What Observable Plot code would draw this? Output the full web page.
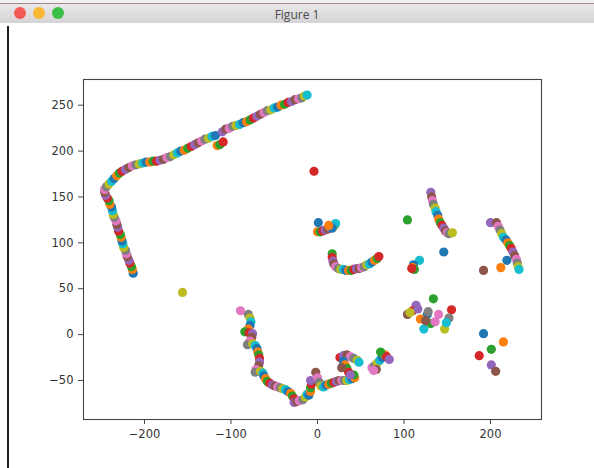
<!DOCTYPE html>
<html><head><meta charset="utf-8">
<script src="https://cdn.jsdelivr.net/npm/d3@7"></script>
<script src="https://cdn.jsdelivr.net/npm/@observablehq/plot@0.6"></script>
<style>
body{margin:0;background:#fff;}
#win{position:relative;width:594px;height:468px;overflow:hidden;background:#fff;}
#top{position:absolute;left:0;top:0;width:594px;height:3px;background:#f2f0f2;border-bottom:1px solid #a08a88;}
#bar{position:absolute;left:0;top:4px;width:594px;height:20px;background:linear-gradient(#e9e7e9,#d4d2d4);border-bottom:1px solid #b8b6b8;}
.light{position:absolute;top:3px;width:12px;height:12px;border-radius:50%;}
#title{position:absolute;left:0;width:594px;top:2px;text-align:center;font:12px "Open Sans","DejaVu Sans",sans-serif;color:#4a4a4a;}
#edge{position:absolute;left:7px;top:26px;width:2px;height:442px;background:#1e1e1e;z-index:2;}
#chart{position:absolute;left:0;top:23px;z-index:1;}
</style></head>
<body>
<div id="win">
  <div id="top"></div>
  <div id="bar">
    <div class="light" style="left:14px;background:#f25a55"></div>
    <div class="light" style="left:33px;background:#f8b834"></div>
    <div class="light" style="left:52px;background:#3cbf47"></div>
    <div id="title">Figure 1</div>
  </div>
  <div id="chart"></div>
  <div id="edge"></div>
</div>
<script>
// tick values
const xTicks = [-200, -100, 0, 100, 200];
const yTicks = [-50, 0, 50, 100, 150, 200, 250];

// long arc, upper left
const arcPts = [
 [-213,67],[-214,71],[-215,74],[-217,78],[-218,81],[-220,85],[-221,88],[-222,92],[-224,95],[-225,99],
 [-226,102],[-227,106],[-228,109],[-230,113],[-231,117],[-232,120],[-233,124],[-235,128],[-236,131],[-237,135],
 [-238,139],[-240,142],[-241,146],[-243,149],[-245,152],[-246,155],[-246,158],[-244,161],[-241,164],[-238,167],
 [-235,170],[-232,173],[-229,176],[-226,178],[-222,180],[-218,182],[-214,184],[-210,185],[-206,186],[-202,187],
 [-198,188],[-194,188],[-190,189],[-186,189],[-182,190],[-178,191],[-174,193],[-170,194],[-166,196],[-162,198],
 [-158,200],[-154,201],[-150,203],[-146,205],[-142,207],[-138,209],[-134,211],[-130,213],[-126,214],[-122,216],
 [-118,217],[-116,206],[-113,207],[-109,210],[-110,221],[-106,224],[-102,225],[-98,227],[-94,228],[-90,229],
 [-86,231],[-82,232],[-78,234],[-74,236],[-70,238],[-66,240],[-62,242],[-58,244],[-54,245],[-50,247],
 [-46,248],[-42,250],[-38,251],[-34,253],[-30,254],[-26,256],[-22,257],[-18,258],[-15,260],[-12,261]
];
// isolated points and their colour categories
const loners = [[-156,46],[-4,178],[104,125],[146,90],[192,70]];
const lonerCats = [8, 3, 2, 0, 5];
// small group near (10,115)
const groupB = [[1,122],[0,112],[3,112],[6,113],[9,114],[12,115],[15,117],[18,118],[20,119],[21,121],[17,116],[13,119]];
// curve near (40,75)
const groupC = [
 [17,88],[17,84],[18,80],[19,77],[21,74],[24,72],[27,71],[30,71],[33,70],[36,70],
 [39,70],[42,71],[45,72],[48,72],[51,73],[54,74],[57,76],[60,77],[63,79],[66,81],[69,83],[71,85]
];
// steep curve near (140,130)
const groupD = [
 [131,155],[132,150],[133,146],[134,142],[136,138],[137,134],[139,130],[140,126],[142,122],[144,119],
 [146,116],[148,113],[150,111],[152,110],[156,111]
];
// small group near (112,75)
const groupD2 = [[118,81],[111,76],[110,73],[112,71],[109,72]];
// curve near (215,100)
const groupE = [
 [200,122],[207,122],[209,118],[211,114],[213,110],[215,106],[218,103],[220,100],[222,97],[224,94],
 [226,90],[228,86],[230,82],[231,78],[232,74],[233,71],[219,81],[212,73]
];
// scatter near (130,20)
const groupF = [
 [134,39],[155,27],[114,32],[104,22],[140,22],[152,18],[147,6],[123,6],[127,22],[119,17],
 [131,12],[110,26],[116,28],[125,15],[136,14],[128,25],[107,24],[149,13]
];
// scatter near (200,-15)
const groupG = [[192,1],[215,-8],[201,-16],[187,-23],[201,-33],[206,-40]];
// valley, lower middle
const valley = [
 [-89,26],[-80,22],[-78,18],[-77,14],[-78,10],[-80,6],[-84,3],[-79,2],[-75,1],[-76,-3],
 [-78,-7],[-81,-11],[-75,-10],[-72,-12],[-70,-15],[-69,-19],[-68,-22],[-67,-26],[-67,-30],[-68,-34],
 [-71,-38],[-72,-41],[-66,-40],[-63,-42],[-62,-45],[-60,-48],[-58,-51],[-55,-53],[-52,-55],[-49,-56],
 [-46,-57],[-43,-58],[-40,-59],[-37,-60],[-34,-62],[-31,-64],[-29,-67],[-27,-70],[-27,-74],[-24,-73],
 [-21,-72],[-17,-71],[-14,-68],[-12,-65],[-10,-66],[-8,-62],[-8,-58],[-7,-54],[-8,-50],[-2,-41],
 [0,-47],[2,-52],[4,-56],[7,-57],[10,-55],[13,-54],[16,-53],[19,-52],[22,-51],[25,-50],
 [28,-50],[31,-50],[34,-50],[37,-49],[40,-48],[43,-47],[42,-44],[26,-25],[30,-23],[34,-22],
 [38,-24],[42,-26],[46,-28],[48,-30],[30,-29],[32,-33],[34,-37],[36,-41],[38,-44],[28,-36]
];
// small group near (72,-28)
const groupI = [[63,-36],[66,-34],[69,-31],[72,-28],[75,-25],[78,-22],[73,-19],[80,-24],[83,-27],[68,-38],[65,-39]];

const groups = [arcPts, groupB, groupC, groupD, groupD2, groupE, groupF, groupG, valley, groupI];
const points = groups.flat().map(([x, y], i) => ({x, y, c: i % 10}))
  .concat(loners.map(([x, y], k) => ({x, y, c: lonerCats[k]})));

const chart = Plot.plot({
  width: 594, height: 445,
  marginLeft: 83, marginRight: 53, marginTop: 56, marginBottom: 49,
  x: {domain: [-270.5, 259]},
  y: {domain: [-92.5, 278]},
  color: {type: "ordinal", domain: d3.range(10), range: d3.schemeCategory10},
  style: {fontFamily: "DejaVu Sans", fontSize: "11.5px", color: "#333", background: "#fff"},
  marks: [
    Plot.dot(points, {x: "x", y: "y", r: 4.6, fill: "c", stroke: null}),
    Plot.frame({stroke: "#444", strokeWidth: 1.1}),
    Plot.axisX({ticks: xTicks, tickSize: 5, tickPadding: 5, label: null, stroke: "#444", fill: "#333"}),
    Plot.axisY({ticks: yTicks, tickSize: 5, tickPadding: 5, label: null, stroke: "#444", fill: "#333"})
  ]
});
document.getElementById("chart").appendChild(chart);
</script>
</body></html>
